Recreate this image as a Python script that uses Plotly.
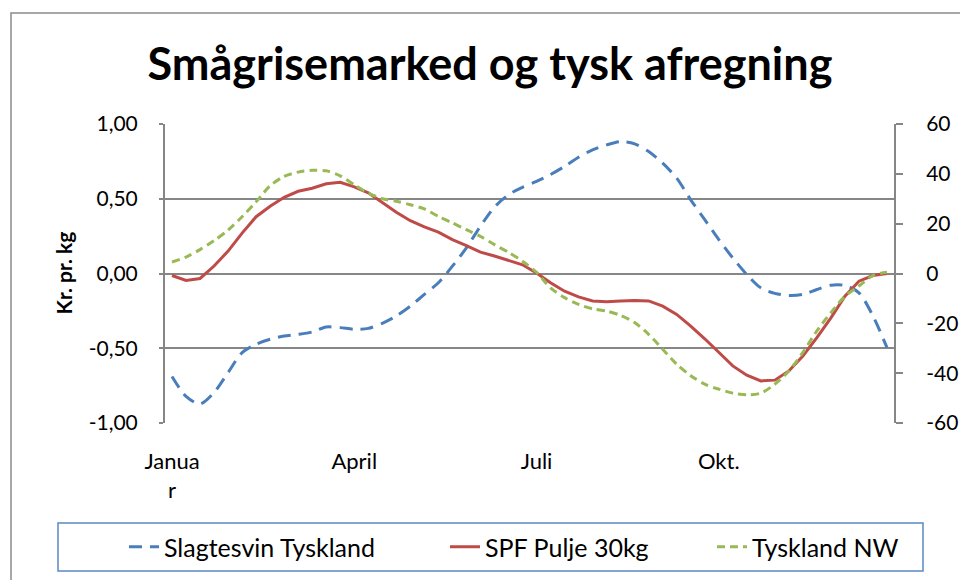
import plotly.graph_objects as go

weeks = list(range(1, 53))
month_ticks = [1, 14, 27, 40]
month_labels = ["Janua<br>r", "April", "Juli", "Okt."]

left_ticks = [-1.0, -0.5, 0.0, 0.5, 1.0]
left_labels = ["-1,00", "-0,50", "0,00", "0,50", "1,00"]
right_ticks = [-60, -40, -20, 0, 20, 40, 60]
right_labels = ["-60", "-40", "-20", "0", "20", "40", "60"]

# Slagtesvin Tyskland (left axis, kr. pr. kg)
slagtesvin = [-0.689, -0.822, -0.873, -0.796, -0.662, -0.529, -0.473, -0.44, -0.418, -0.407, -0.391, -0.358, -0.362,
              -0.373, -0.367, -0.333, -0.284, -0.218, -0.14, -0.062, 0.049, 0.171, 0.316, 0.444, 0.527, 0.576,
              0.616, 0.662, 0.716, 0.778, 0.827, 0.86, 0.882, 0.867, 0.816, 0.738, 0.638, 0.493, 0.36,
              0.227, 0.104, -0.007, -0.096, -0.133, -0.147, -0.14, -0.107, -0.078, -0.08, -0.129, -0.284, -0.496]

# SPF Pulje 30kg (right axis)
spf = [-0.8, -2.8, -2.0, 3.0, 9.0, 16.2, 22.8, 27.0, 30.6, 33.0, 34.2, 36.0, 36.6,
       34.8, 32.4, 28.6, 24.6, 21.2, 18.7, 16.6, 13.6, 11.2, 8.6, 7.0, 5.2, 3.5,
       0.2, -3.7, -7.1, -9.4, -11.0, -11.3, -11.0, -10.8, -11.0, -13.1, -16.4, -21.1, -26.2,
       -31.7, -37.1, -40.8, -43.1, -42.8, -39.1, -33.1, -25.7, -17.8, -9.1, -3.1, -0.8, 0.0]

# Tyskland NW (right axis)
tyskland_nw = [4.6, 6.6, 9.6, 13.2, 17.4, 22.8, 28.8, 35.2, 39.0, 40.7, 41.4, 41.2, 39.2,
               35.6, 32.3, 30.0, 29.0, 27.6, 25.9, 22.9, 20.3, 17.6, 14.9, 11.6, 8.5, 4.9,
               0.5, -5.8, -9.7, -12.4, -14.2, -15.1, -16.8, -19.7, -24.4, -30.4, -36.4, -41.0, -44.4,
               -46.4, -48.0, -48.7, -48.0, -44.4, -39.1, -31.7, -23.0, -15.7, -9.1, -5.0, -0.8, 0.5]

FONT = "Lato"
GRID = "#868686"

fig = go.Figure()
fig.add_trace(go.Scatter(x=weeks, y=slagtesvin, name="Slagtesvin Tyskland", mode="lines", legend="legend",
                         line=dict(color="#4A7EBB", width=3, dash="13px,8px", shape="spline", smoothing=0.8)))
fig.add_trace(go.Scatter(x=weeks, y=spf, name="SPF Pulje 30kg", mode="lines", yaxis="y2", legend="legend2",
                         line=dict(color="#BE4B48", width=3)))
fig.add_trace(go.Scatter(x=weeks, y=tyskland_nw, name="Tyskland NW", mode="lines", yaxis="y2", legend="legend3",
                         line=dict(color="#98B954", width=3, dash="8px,5px", shape="spline", smoothing=0.8)))

L, R, T, B = 165, 66, 124, 157
pw, ph = 960 - L - R, 580 - T - B

def px(xp):
    return (xp - L) / pw

def py(yp):
    return (580 - B - yp) / ph

def leg(xpix):
    return dict(orientation="h", x=px(xpix), xanchor="left", y=py(547), yanchor="middle",
                bgcolor="rgba(0,0,0,0)", borderwidth=0, font=dict(size=25, family=FONT))

fig.update_layout(
    width=960, height=580,
    margin=dict(l=L, r=R, t=T, b=B, autoexpand=False),
    paper_bgcolor="white", plot_bgcolor="white",
    font=dict(family=FONT, size=21, color="black"),
    title=dict(text="<b>Smågrisemarked og tysk afregning</b>", x=490 / 960, xanchor="center",
               xref="container", y=1 - 64 / 580, yanchor="middle",
               font=dict(family=FONT, size=45, color="black")),
    xaxis=dict(range=[0.5, 52.5], tickvals=month_ticks, ticktext=month_labels, showgrid=False,
               showline=False, zeroline=False, ticks="", ticklabelstandoff=23,
               tickfont=dict(size=22)),
    yaxis=dict(range=[-1, 1], tickvals=left_ticks, ticktext=left_labels, showgrid=True,
               gridcolor=GRID, gridwidth=2, zeroline=False, showline=True, linecolor=GRID, linewidth=2,
               ticks="outside", ticklen=4, tickcolor=GRID, tickwidth=2, ticklabelstandoff=17,
               tickfont=dict(size=21)),
    yaxis2=dict(range=[-60, 60], tickvals=right_ticks, ticktext=right_labels, overlaying="y", side="right",
                showgrid=False, zeroline=False, showline=True, linecolor=GRID, linewidth=2,
                ticks="outside", ticklen=7, tickcolor=GRID, tickwidth=2, ticklabelstandoff=19,
                tickfont=dict(size=21)),
    showlegend=True,
    legend=leg(124),
    legend2=leg(445),
    legend3=leg(712),
    annotations=[dict(text="<b>Kr. pr. kg</b>", x=px(63), y=0.5, xref="paper", yref="paper",
                      textangle=-90, showarrow=False, font=dict(size=21, family=FONT),
                      xanchor="center", yanchor="middle")],
    shapes=[
        dict(type="rect", xref="paper", yref="paper", x0=px(11), y0=py(13), x1=px(975), y1=py(600),
             line=dict(color="#8A8A8A", width=1.5), layer="below"),
        dict(type="rect", xref="paper", yref="paper", x0=px(58), y0=py(523), x1=px(923), y1=py(571),
             line=dict(color="#5A88C2", width=1.5), layer="below"),
    ],
)

fig.write_html("out.html", post_script="document.body.style.margin='0px';",
               config={"displayModeBar": False})
